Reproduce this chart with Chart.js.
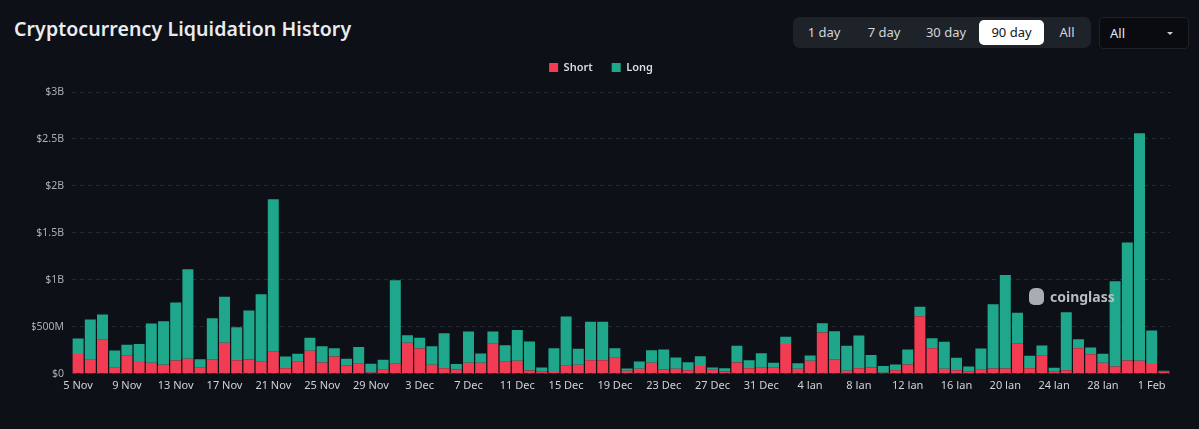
<!DOCTYPE html>
<html>
<head>
<meta charset="utf-8">
<script src="https://cdn.jsdelivr.net/npm/chart.js@4"></script>
<style>
    html, body { margin: 0; padding: 0; background: #0d1016; }
    body { width: 1199px; height: 429px; position: relative; overflow: hidden; font-family: 'Noto Sans', 'Inter', sans-serif; }
    .title { position: absolute; left: 14px; top: 15px; color: #e9ebee; font-size: 19.5px; font-weight: 600; letter-spacing: 0.1px; }
    .tabs { position: absolute; left: 793px; top: 17px; width: 298px; height: 31px; background: #1e2229; border-radius: 7px; }
    .tab { position: absolute; top: 0; height: 31px; line-height: 31px; color: #d3d6db; font-size: 13px; text-align: center; }
    .tab.active { top: 3px; height: 25px; line-height: 25px; background: #ffffff; color: #111318; border-radius: 5px; }
    .select { position: absolute; left: 1099px; top: 17px; width: 88px; height: 30px; background: #090b0f; border: 1px solid #1d2128; border-radius: 4px; }
    .select span { position: absolute; left: 10px; top: 0; line-height: 30px; color: #e4e6e9; font-size: 13px; }
    .caret { position: absolute; right: 15px; top: 14px; width: 0; height: 0; border-left: 3px solid transparent; border-right: 3px solid transparent; border-top: 3px solid #c9ccd1; }
    .wm { position: absolute; left: 1029px; top: 287px; color: #b9bcc2; font-size: 14px; font-weight: 700; }
    .wm i { display: inline-block; width: 15px; height: 17px; background: #a9acb2; border-radius: 6px 6px 5px 5px; vertical-align: -3px; margin-right: 6px; }
    #chart { position: absolute; left: 0; top: 43px; }
</style>
</head>
<body>
<div class="title">Cryptocurrency Liquidation History</div>
<div class="tabs">
    <div class="tab" style="left: 0px; width: 62px;">1 day</div>
    <div class="tab" style="left: 60px; width: 62px;">7 day</div>
    <div class="tab" style="left: 118px; width: 70px;">30 day</div>
    <div class="tab active" style="left: 186px; width: 65px;">90 day</div>
    <div class="tab" style="left: 252px; width: 44px;">All</div>
</div>
<div class="select"><span>All</span><div class="caret"></div></div>
<canvas id="chart" width="1199" height="379"></canvas>
<div class="wm"><i></i>coinglass</div>
<script>
const dates = [
    '5 Nov', '6 Nov', '7 Nov', '8 Nov', '9 Nov', '10 Nov', '11 Nov', '12 Nov', '13 Nov', '14 Nov',
    '15 Nov', '16 Nov', '17 Nov', '18 Nov', '19 Nov', '20 Nov', '21 Nov', '22 Nov', '23 Nov', '24 Nov',
    '25 Nov', '26 Nov', '27 Nov', '28 Nov', '29 Nov', '30 Nov', '1 Dec', '2 Dec', '3 Dec', '4 Dec',
    '5 Dec', '6 Dec', '7 Dec', '8 Dec', '9 Dec', '10 Dec', '11 Dec', '12 Dec', '13 Dec', '14 Dec',
    '15 Dec', '16 Dec', '17 Dec', '18 Dec', '19 Dec', '20 Dec', '21 Dec', '22 Dec', '23 Dec', '24 Dec',
    '25 Dec', '26 Dec', '27 Dec', '28 Dec', '29 Dec', '30 Dec', '31 Dec', '1 Jan', '2 Jan', '3 Jan',
    '4 Jan', '5 Jan', '6 Jan', '7 Jan', '8 Jan', '9 Jan', '10 Jan', '11 Jan', '12 Jan', '13 Jan',
    '14 Jan', '15 Jan', '16 Jan', '17 Jan', '18 Jan', '19 Jan', '20 Jan', '21 Jan', '22 Jan', '23 Jan',
    '24 Jan', '25 Jan', '26 Jan', '27 Jan', '28 Jan', '29 Jan', '30 Jan', '31 Jan', '1 Feb', '2 Feb',
];

// millions of USD
const shortM = [
    210, 149, 362, 64, 191, 135, 117, 96, 142, 160,
    71, 156, 330, 145, 152, 128, 234, 60, 128, 245,
    121, 184, 92, 113, 14, 43, 106, 330, 270, 96,
    60, 46, 117, 117, 319, 128, 138, 35, 28, 18,
    85, 96, 145, 145, 170, 32, 53, 117, 46, 53,
    39, 82, 43, 25, 121, 60, 64, 71, 316, 53,
    138, 440, 156, 32, 60, 67, 11, 39, 99, 613,
    273, 53, 39, 28, 43, 57, 57, 326, 60, 191,
    28, 39, 273, 209, 117, 78, 142, 138, 103, 25,
];

const longM = [
    165, 429, 269, 184, 117, 181, 418, 464, 617, 954,
    85, 436, 489, 351, 522, 720, 1624, 124, 85, 138,
    173, 89, 68, 171, 92, 106, 890, 81, 113, 198,
    373, 57, 333, 99, 131, 177, 327, 309, 39, 255,
    525, 170, 408, 408, 103, 25, 78, 135, 213, 121,
    85, 106, 24, 35, 177, 85, 156, 46, 78, 60,
    57, 99, 298, 266, 348, 132, 71, 60, 160, 100,
    106, 287, 131, 50, 227, 684, 996, 323, 131, 110,
    36, 617, 96, 71, 96, 908, 1255, 2422, 358, 7,
];

const yTicks = [0, 0.5e9, 1e9, 1.5e9, 2e9, 2.5e9, 3e9];

const formatUsd = (v) => {
    if (v === 0) return '$0';
    if (v < 1e9) return '$' + (v / 1e6) + 'M';
    return '$' + (v / 1e9) + 'B';
};

// a bit of extra room under the legend
const legendGap = {
    id: 'legendGap',
    beforeInit(chart) {
        const fit = chart.legend.fit;
        chart.legend.fit = function () {
            fit.call(this);
            this.height += 9;
        };
    },
};

new Chart(document.getElementById('chart'), {
    type: 'bar',
    plugins: [legendGap],
    data: {
        labels: dates,
        datasets: [
            {
                label: 'Short',
                data: shortM.map((v) => v * 1e6),
                backgroundColor: '#f23c54',
                barPercentage: 0.9,
                categoryPercentage: 1,
            },
            {
                label: 'Long',
                data: longM.map((v) => v * 1e6),
                backgroundColor: '#1fa78b',
                barPercentage: 0.9,
                categoryPercentage: 1,
            },
        ],
    },
    options: {
        responsive: false,
        animation: false,
        layout: { padding: { left: 32, right: 29, top: 0, bottom: 33 } },
        plugins: {
            legend: {
                position: 'top',
                labels: {
                    boxWidth: 9,
                    boxHeight: 9,
                    color: '#d9dce0',
                    font: { family: 'Noto Sans', size: 11, weight: '600' },
                    padding: 19,
                },
            },
            tooltip: { enabled: false },
        },
        scales: {
            x: {
                stacked: true,
                grid: { display: false },
                border: { display: false },
                ticks: {
                    autoSkip: false,
                    maxRotation: 0,
                    color: '#cfd2d7',
                    font: { family: 'Noto Sans', size: 11 },
                    padding: -3,
                    callback: (value, index) => (index % 4 === 0 ? dates[index] : ''),
                },
            },
            y: {
                stacked: true,
                min: 0,
                max: 3e9,
                afterFit: (scale) => { scale.width = 40; },
                afterBuildTicks: (scale) => { scale.ticks = yTicks.map((v) => ({ value: v })); },
                grid: { color: '#272b33', tickLength: 0 },
                border: { display: false, dash: [4, 4] },
                ticks: {
                    color: '#a9aeb5',
                    font: { family: 'Noto Sans', size: 10.5 },
                    padding: 8,
                    callback: (value) => formatUsd(value),
                },
            },
        },
    },
});
</script>
</body>
</html>
